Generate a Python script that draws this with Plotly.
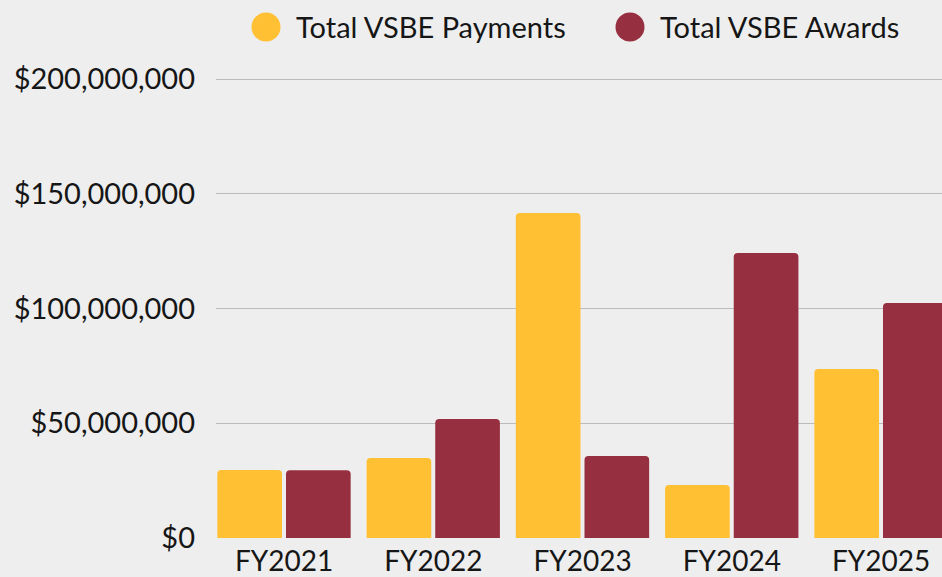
import plotly.graph_objects as go

years = ["FY2021", "FY2022", "FY2023", "FY2024", "FY2025"]
payments = [29600000, 34900000, 141600000, 23100000, 73600000]
awards = [29500000, 51900000, 35700000, 124200000, 102400000]
tick_vals = [0, 50000000, 100000000, 150000000, 200000000]
tick_text = ["$0", "$50,000,000", "$100,000,000", "$150,000,000", "$200,000,000"]

YELLOW = "#FFC133"
MAROON = "#962F3F"
BG = "#EEEEEE"
FONT = "Lato, 'Open Sans', sans-serif"
TXT = "#161616"

fig = go.Figure()
fig.add_trace(go.Bar(x=years, y=payments, name="Total VSBE Payments",
                     marker=dict(color=YELLOW, cornerradius=4, line_width=0)))
fig.add_trace(go.Bar(x=years, y=awards, name="Total VSBE Awards",
                     marker=dict(color=MAROON, cornerradius=4, line_width=0)))

# plot box in pixels; y range padded a little so the $200M gridline shows
plot_l, plot_r, plot_t, plot_b = 216, 942, 74, 538
pw, ph = plot_r - plot_l, plot_b - plot_t
y_top = 200000000 * ph / (plot_b - 79)
cat_px = 149.25
x0 = -(284 - plot_l) / cat_px

# legend drawn by hand: big round swatches
legend_items = [("Total VSBE Payments", YELLOW, 266), ("Total VSBE Awards", MAROON, 630)]
for label, col, cx in legend_items:
    px_ = (cx - plot_l) / pw
    py_ = (plot_b - 27) / ph
    fig.add_shape(type="circle", xref="paper", yref="paper",
                  xsizemode="pixel", ysizemode="pixel",
                  xanchor=px_, yanchor=py_,
                  x0=-14.5, x1=14.5, y0=-14.5, y1=14.5,
                  fillcolor=col, line_width=0)
    fig.add_annotation(text=label, xref="paper", yref="paper",
                       x=(cx + 28 - plot_l) / pw, y=py_ + 1 / ph,
                       xanchor="left", yanchor="middle", showarrow=False,
                       font=dict(size=29, color=TXT, family=FONT))

fig.update_layout(
    width=942, height=577,
    margin=dict(l=plot_l, r=0, t=plot_t, b=577 - plot_b, pad=0),
    paper_bgcolor=BG, plot_bgcolor=BG,
    barmode="group", bargap=0.08, bargroupgap=0.058,
    showlegend=False,
    font=dict(family=FONT, size=28, color=TXT),
)
fig.update_xaxes(range=[x0, x0 + pw / cat_px], showgrid=False,
                 ticks="", showline=False, tickfont=dict(size=28),
                 ticklabelstandoff=4)
fig.update_yaxes(range=[0, y_top], tickvals=tick_vals, ticktext=tick_text,
                 showgrid=True, gridcolor="#BBBBBB", gridwidth=1,
                 zeroline=True, zerolinecolor=BG, showline=False,
                 ticks="", ticklabelstandoff=20, tickfont=dict(size=29))

fig.write_html("out.html", config={"displayModeBar": False},
               post_script="document.body.style.margin='0';")
